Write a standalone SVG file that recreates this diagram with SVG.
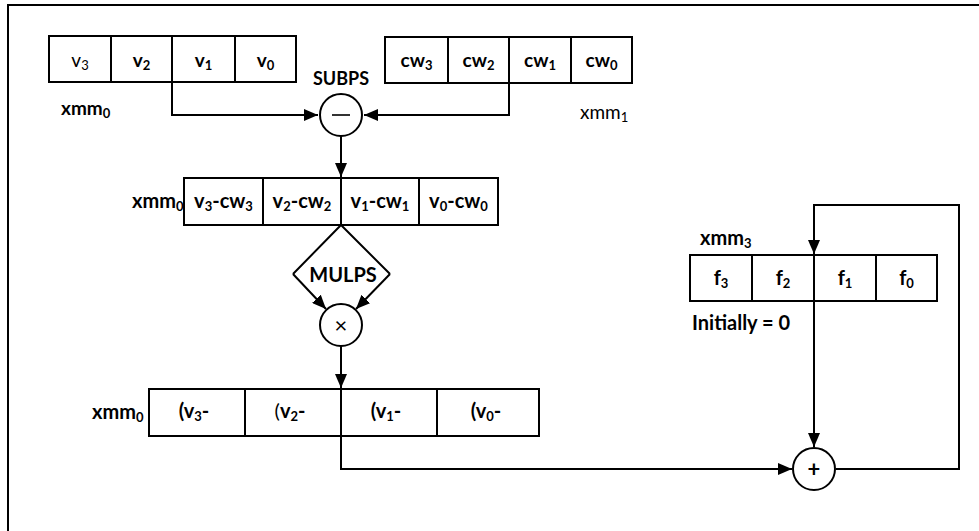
<svg xmlns="http://www.w3.org/2000/svg" width="979" height="531" viewBox="0 0 979 531">
<defs>
<style>
text{font-family:Lato,"Open Sans","Liberation Sans",sans-serif;fill:#000}
.b{font-weight:bold}
.r{font-weight:normal}
.c{text-anchor:middle}
.cell{fill:#fff;stroke:#000;stroke-width:2}
.ln{fill:none;stroke:#000;stroke-width:2}
.op{fill:#fff;stroke:#000;stroke-width:2}
</style>
<marker id="ah" markerUnits="userSpaceOnUse" markerWidth="14" markerHeight="12" viewBox="0 0 14 12" refX="14" refY="6" orient="auto">
<path d="M0,0 L14,6 L0,12 Z" fill="#000"/>
</marker>
</defs>
<rect x="0" y="0" width="979" height="531" fill="#fff"/>
<rect x="8" y="5" width="1000" height="600" fill="none" stroke="#000" stroke-width="2"/>

<g id="connectors">
<path class="ln" d="M172,82 V115 H318" marker-end="url(#ah)"/>
<path class="ln" d="M509,83 V115 H364" marker-end="url(#ah)"/>
<path class="ln" d="M341,136 V177" marker-end="url(#ah)"/>
<path class="ln" d="M293,274 L326,309" marker-end="url(#ah)"/>
<path class="ln" d="M390,274 L356,309" marker-end="url(#ah)"/>
<path class="ln" d="M341,346 V388" marker-end="url(#ah)"/>
<path class="ln" d="M341,436 V469 H792" marker-end="url(#ah)"/>
<path class="ln" d="M814,301 V447" marker-end="url(#ah)"/>
<path class="ln" d="M836,469 H959 V205 H814 V254" marker-end="url(#ah)"/>
</g>

<g id="xmm0-in">
<rect class="cell" x="49" y="36" width="62" height="46"/>
<rect class="cell" x="111" y="36" width="61" height="46"/>
<rect class="cell" x="172" y="36" width="63" height="46"/>
<rect class="cell" x="235" y="36" width="61" height="46"/>
<text class="r c" font-size="19" x="80" y="67">v<tspan font-size="13" dy="3">3</tspan></text>
<text class="b c" font-size="19" x="141.5" y="67">v<tspan font-size="13" dy="3">2</tspan></text>
<text class="b c" font-size="19" x="203.5" y="67">v<tspan font-size="13" dy="3">1</tspan></text>
<text class="b c" font-size="19" x="265.5" y="67">v<tspan font-size="13" dy="3">0</tspan></text>
<text class="b" font-size="19" x="61" y="115">xmm<tspan font-size="13" dy="3">0</tspan></text>
</g>

<g id="xmm1-in">
<rect class="cell" x="385" y="37" width="63" height="46"/>
<rect class="cell" x="448" y="37" width="61" height="46"/>
<rect class="cell" x="509" y="37" width="62" height="46"/>
<rect class="cell" x="571" y="37" width="61" height="46"/>
<text class="b c" font-size="19" x="416.5" y="67">cw<tspan font-size="13" dy="3">3</tspan></text>
<text class="b c" font-size="19" x="478.5" y="67">cw<tspan font-size="13" dy="3">2</tspan></text>
<text class="b c" font-size="19" x="540" y="67">cw<tspan font-size="13" dy="3">1</tspan></text>
<text class="b c" font-size="19" x="601.5" y="67">cw<tspan font-size="13" dy="3">0</tspan></text>
<text class="r" font-size="19" x="580" y="119">xmm<tspan font-size="13" dy="3">1</tspan></text>
</g>

<g id="subps">
<text class="b c" font-size="18" x="341" y="85">SUBPS</text>
<circle class="op" cx="341" cy="115" r="21"/>
<line x1="332" y1="115" x2="350" y2="115" stroke="#000" stroke-width="1.6"/>
</g>

<g id="xmm0-diff">
<text class="b" font-size="20" x="132" y="208">xmm<tspan font-size="13" dy="3">0</tspan></text>
<rect class="cell" x="184" y="178" width="79" height="47"/>
<rect class="cell" x="263" y="178" width="78" height="47"/>
<rect class="cell" x="341" y="178" width="78" height="47"/>
<rect class="cell" x="419" y="178" width="79" height="47"/>
<text class="b c" font-size="20" x="223.5" y="208">v<tspan font-size="13" dy="3">3</tspan><tspan dy="-3">-cw</tspan><tspan font-size="13" dy="3">3</tspan></text>
<text class="b c" font-size="20" x="302" y="208">v<tspan font-size="13" dy="3">2</tspan><tspan dy="-3">-cw</tspan><tspan font-size="13" dy="3">2</tspan></text>
<text class="b c" font-size="20" x="380" y="208">v<tspan font-size="13" dy="3">1</tspan><tspan dy="-3">-cw</tspan><tspan font-size="13" dy="3">1</tspan></text>
<text class="b c" font-size="20" x="458.5" y="208">v<tspan font-size="13" dy="3">0</tspan><tspan dy="-3">-cw</tspan><tspan font-size="13" dy="3">0</tspan></text>
</g>

<g id="mulps">
<path class="ln" d="M341,225 L293,274 M341,225 L390,274"/>
<text class="b c" font-size="20" x="343" y="282">MULPS</text>
<circle class="op" cx="341" cy="325" r="21"/>
<text class="r c" font-size="22" x="341" y="333">×</text>
</g>

<g id="xmm0-prod">
<text class="b" font-size="20" x="92" y="419">xmm<tspan font-size="13" dy="3">0</tspan></text>
<rect class="cell" x="149" y="389" width="96" height="47"/>
<rect class="cell" x="245" y="389" width="96" height="47"/>
<rect class="cell" x="341" y="389" width="96" height="47"/>
<rect class="cell" x="437" y="389" width="102" height="47"/>
<text class="b c" font-size="20" x="194" y="418">(v<tspan font-size="13" dy="3">3</tspan><tspan dy="-3">-</tspan></text>
<text class="b c" font-size="20" x="290" y="418"><tspan font-weight="normal">(</tspan>v<tspan font-size="13" dy="3">2</tspan><tspan dy="-3">-</tspan></text>
<text class="b c" font-size="20" x="386" y="418">(v<tspan font-size="13" dy="3">1</tspan><tspan dy="-3">-</tspan></text>
<text class="b c" font-size="20" x="486" y="418">(v<tspan font-size="13" dy="3">0</tspan><tspan dy="-3">-</tspan></text>
</g>

<g id="xmm3">
<text class="b" font-size="20" x="700" y="245">xmm<tspan font-size="13" dy="3">3</tspan></text>
<rect class="cell" x="690" y="255" width="62" height="46"/>
<rect class="cell" x="752" y="255" width="62" height="46"/>
<rect class="cell" x="814" y="255" width="62" height="46"/>
<rect class="cell" x="876" y="255" width="61" height="46"/>
<text class="b c" font-size="20" x="721" y="285">f<tspan font-size="13" dy="3">3</tspan></text>
<text class="b c" font-size="20" x="783" y="285">f<tspan font-size="13" dy="3">2</tspan></text>
<text class="b c" font-size="20" x="845" y="285">f<tspan font-size="13" dy="3">1</tspan></text>
<text class="b c" font-size="20" x="906.5" y="285">f<tspan font-size="13" dy="3">0</tspan></text>
<text class="b" font-size="20" x="692" y="330">Initially = 0</text>
</g>

<g id="add">
<circle class="op" cx="814" cy="469" r="21"/>
<text class="b c" font-size="22" x="814" y="477">+</text>
</g>
</svg>
